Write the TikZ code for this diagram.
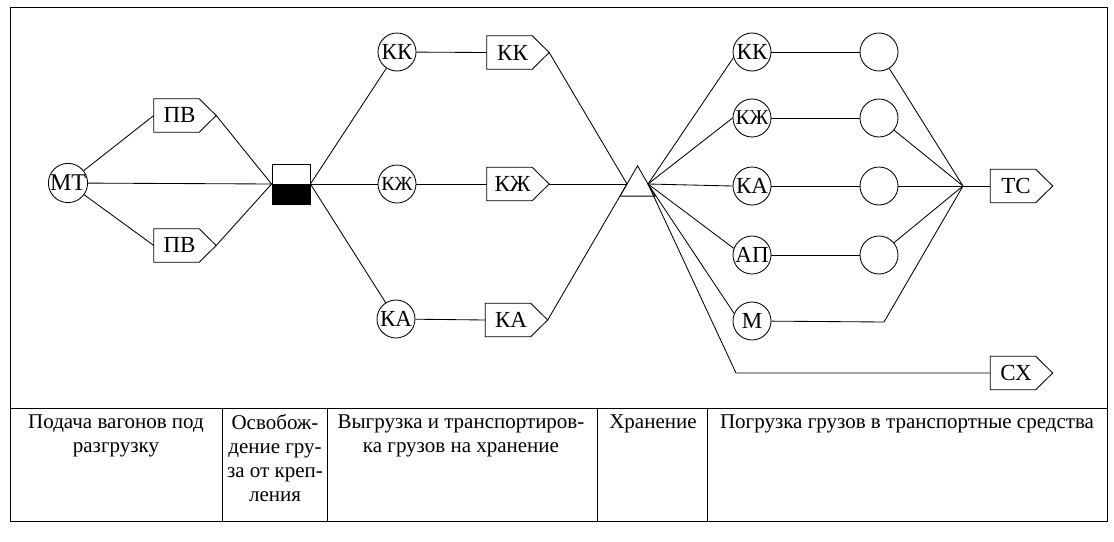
\documentclass[tikz,border=0pt]{standalone}
\usepackage{fontspec}
\setmainfont{Liberation Serif}
\usetikzlibrary{shapes.geometric,calc}
\newcommand\signode[4]{%
  \node[sigbody] (#1) at (#2,#3) {\hspace*{6pt}#4};
  \coordinate (#1tip) at ([xshift=17pt]#1.east);
  \draw[ln,line join=miter] (#1.north west) -- (#1.north east) -- (#1tip) -- (#1.south east) -- (#1.south west) -- cycle;}
\begin{document}
\begin{tikzpicture}[x=1pt,y=-1pt,
  ln/.style={line width=0.85pt},
  lbl/.style={font=\fontsize{23}{25}\selectfont},
  crc/.style={circle,draw,line width=0.85pt,minimum size=38pt,inner sep=0pt,lbl},
  sigbody/.style={rectangle,minimum width=45pt,minimum height=33pt,inner sep=0pt,lbl},
  cell/.style={anchor=north,align=center,inner sep=0pt,font=\fontsize{21}{24}\selectfont}]
\useasboundingbox (0,0) rectangle (1114,541);
% frame and table
\draw[ln] (10,7) rectangle (1107,521);
\draw[ln] (10,408) -- (1107,408);
\foreach \x in {222,327.5,597.5,707} \draw[ln] (\x,408) -- (\x,521);
\node[cell] (c1) at (116,414.5) {Подача вагонов под\\разгрузку};
\node[cell] (c2) at (275,414.5) {Освобож-\\дение гру-\\за от креп-\\ления};
\node[cell] (c3) at (461,414.5) {Выгрузка и транспортиров-\\ка грузов на хранение};
\node[cell] (c4) at (653,414.5) {Хранение};
\node[cell] (c5) at (907,414.5) {Погрузка грузов в транспортные средства};
% left part
\node[crc,font=\fontsize{24}{26}\selectfont] (mt) at (68,183) {МТ};
\signode{pv1}{176.5}{115.5}{ПВ}
\signode{pv2}{176.5}{245.5}{ПВ}
\node[rectangle,draw,line width=0.85pt,minimum width=38pt,minimum height=40pt,inner sep=0pt,
  path picture={\fill[black] (path picture bounding box.west) rectangle (path picture bounding box.south east);}] (sq) at (291,184) {};
\draw[ln] (mt) -- (pv1.west);
\draw[ln] (mt) -- (pv2.west);
\draw[ln] (mt) -- (sq.west);
\draw[ln] (pv1tip) -- (sq.west);
\draw[ln] (pv2tip) -- (sq.west);
% middle
\node[crc] (kk1) at (397,52) {КК};
\node[crc,font=\fontsize{20}{22}\selectfont] (kz1) at (397,184) {КЖ};
\node[crc] (ka1) at (396,319) {КА};
\draw[ln] (sq.east) -- (kk1);
\draw[ln] (sq.east) -- (kz1);
\draw[ln] (sq.east) -- (ka1);
\signode{kks}{509.5}{52.5}{КК}
\signode{kzs}{509.5}{184}{КЖ}
\signode{kas}{508}{320}{КА}
\draw[ln] (kk1) -- (kks.west);
\draw[ln] (kz1) -- (kzs.west);
\draw[ln] (ka1) -- (kas.west);
\node[regular polygon,regular polygon sides=3,draw,line width=0.85pt,minimum size=40.4pt,inner sep=0pt] (tri) at (637.5,186) {};
\coordinate (tl) at (627,184);
\coordinate (tr) at (648,184);
\draw[ln] (kkstip) -- (tl);
\draw[ln] (kzstip) -- (tl);
\draw[ln] (kastip) -- (tl);
% right part
\node[crc] (kk2) at (752,52) {КК};
\node[crc,font=\fontsize{21}{23}\selectfont] (kz2) at (752,118) {КЖ};
\node[crc] (ka2) at (752,186) {КА};
\node[crc] (ap2) at (752,255) {АП};
\node[crc] (m2) at (752,321) {М};
\node[crc] (e1) at (879,52) {};
\node[crc] (e2) at (879,118) {};
\node[crc] (e3) at (879,186) {};
\node[crc] (e4) at (879,255) {};
\coordinate (conv) at (963,186);
\coordinate (mb) at (884,322);
\coordinate (cb) at (736,373);
\signode{tcs}{1013}{186}{ТС}
\signode{cxs}{1013}{373}{СХ}
\draw[ln] (tr) -- (kk2.197);
\draw[ln] (tr) -- (kz2.west);
\draw[ln] (tr) -- (ka2.west);
\draw[ln] (tr) -- (ap2.160);
\draw[ln] (tr) -- (m2.157);
\draw[ln] (tr) -- (cb) -- (cxs.west);
\draw[ln] (kk2) -- (e1);
\draw[ln] (kz2) -- (e2);
\draw[ln] (ka2) -- (e3);
\draw[ln] (ap2) -- (e4);
\draw[ln] (e1) -- (conv);
\draw[ln] (e2) -- (conv);
\draw[ln] (e3) -- (conv);
\draw[ln] (e4) -- (conv);
\draw[ln] (m2) -- (mb) -- (conv);
\draw[ln] (conv) -- (tcs.west);
\end{tikzpicture}
\end{document}
